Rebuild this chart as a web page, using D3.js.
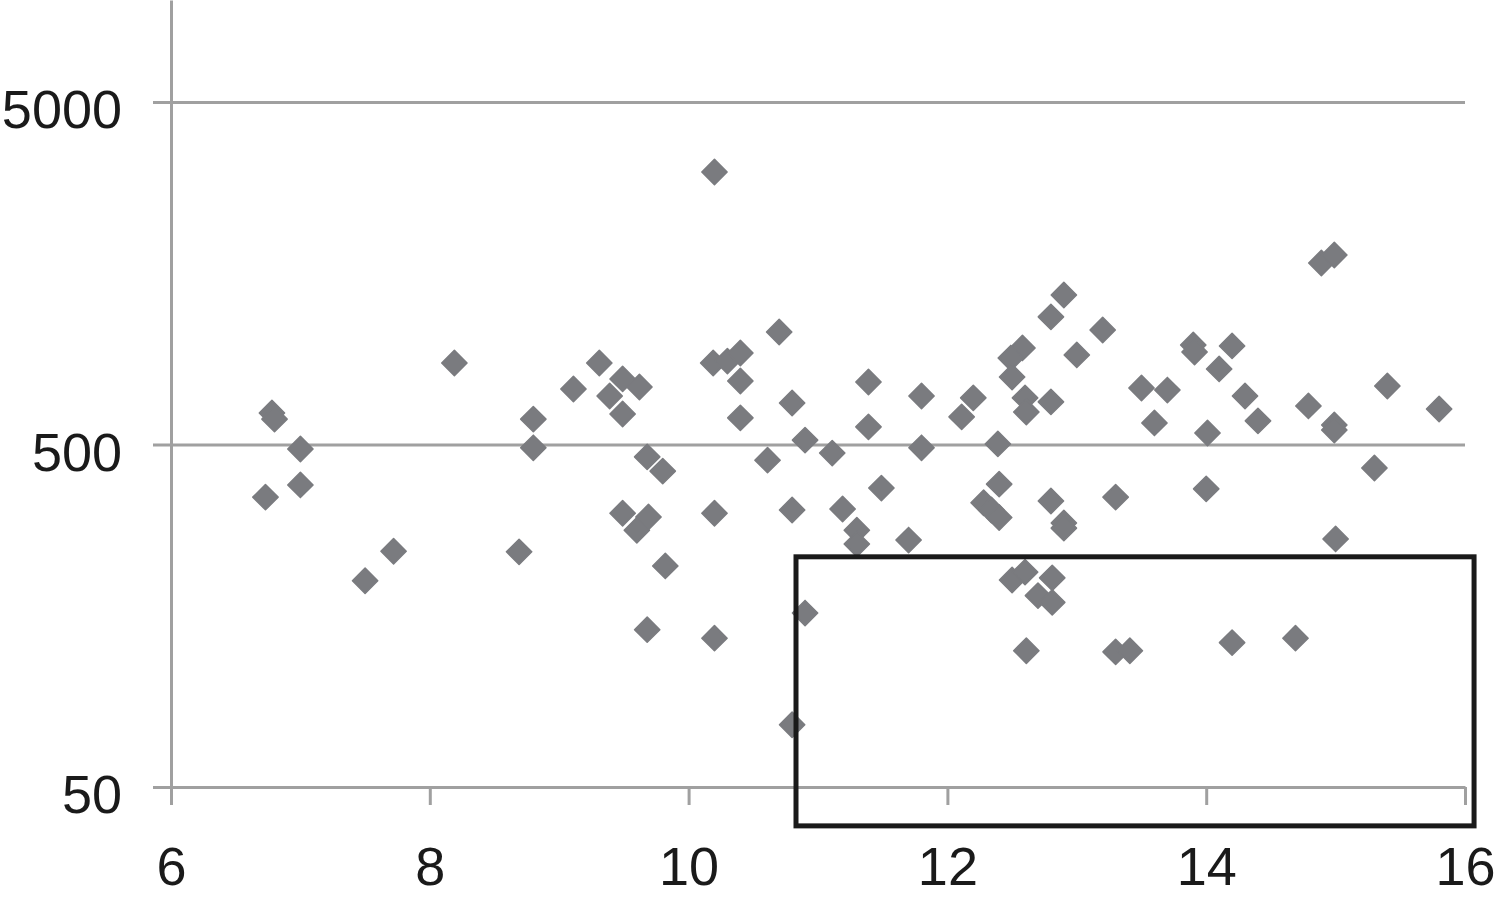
<!DOCTYPE html>
<html>
<head>
<meta charset="utf-8">
<script src="https://cdn.jsdelivr.net/npm/d3@7"></script>
<style>
  body { margin: 0; background: #fff; }
  svg { display: block; }
</style>
</head>
<body>
<script>
// scatter values
const xValues = [6.78, 6.80, 7.00, 6.73, 7.00, 7.50, 7.72, 8.19, 8.69, 8.80,
  8.80, 9.11, 9.31, 9.49, 9.62, 9.39, 9.49, 9.49, 9.69, 9.60,
  9.68, 9.80, 9.82, 9.68, 10.20, 10.19, 10.30, 10.40, 10.40, 10.70,
  10.40, 10.20, 10.20, 10.61, 10.80, 10.90, 10.80, 11.11, 11.19, 11.30,
  11.30, 10.90, 10.80, 11.39, 11.39, 11.49, 11.70, 11.80, 11.80, 12.11,
  12.20, 12.39, 12.40, 12.28, 12.34, 12.40, 12.58, 12.49, 12.50, 12.60,
  12.61, 12.80, 12.90, 12.80, 13.20, 13.00, 12.80, 12.90, 12.90, 13.30,
  12.50, 12.60, 12.81, 12.70, 12.81, 12.61, 13.30, 13.41, 13.50, 13.70,
  13.60, 13.90, 13.91, 14.20, 14.10, 14.30, 14.40, 14.01, 14.00, 14.20,
  14.69, 14.79, 14.89, 14.99, 14.99, 14.99, 15.30, 15.40, 15.80, 15.00];
const yValues = [618, 593, 485, 351, 381, 200, 244, 865, 243, 593,
  489, 726, 865, 777, 736, 693, 614, 315, 307, 281,
  460, 418, 221, 144, 3123, 865, 876, 925, 766, 1065,
  598, 315, 136, 450, 661, 515, 322, 472, 324, 281,
  256, 161, 76, 761, 563, 373, 263, 693, 489, 602,
  684, 502, 383, 338, 322, 306, 957, 894, 787, 684,
  622, 666, 1366, 1179, 1080, 913, 342, 295, 285, 351,
  201, 212, 204, 181, 173, 125, 124, 125, 731, 721,
  578, 976, 931, 970, 831, 693, 586, 540, 371, 132,
  136, 648, 1694, 1788, 570, 551, 427, 741, 635, 265];

const xTicks = [6, 8, 10, 12, 14, 16];
const yTicks = [50, 500, 5000];

// highlighted region (x range, y range)
const boxX = [10.83, 16.07];
const boxY = [38.5, 235];

const width = 1496, height = 898;
const left = 171, right = 1465, bottom = 787;

const svg = d3.select("body").append("svg")
    .attr("width", width)
    .attr("height", height);

const x = d3.scaleLinear()
    .domain([6, 16])
    .range([left, right]);

const y = d3.scaleLog()
    .domain([50, 5000])
    .range([bottom, 102]);
// stretch the axis up to the top of the picture
y.domain([50, y.invert(0)]).range([bottom, 0]);

const gridColor = "#a0a0a0";
const font = "'Liberation Sans', Arial, Helvetica, sans-serif";

// y axis + horizontal gridlines
const yAxis = svg.append("g")
    .attr("transform", `translate(${left},0)`)
    .call(d3.axisLeft(y).tickValues(yTicks).tickFormat(d3.format("d"))
        .tickSizeOuter(0).tickPadding(43));
yAxis.selectAll(".tick line")
    .attr("x1", -18)
    .attr("x2", right - left);
yAxis.selectAll("line, path")
    .attr("stroke", gridColor)
    .attr("stroke-width", 3);
yAxis.selectAll("text")
    .attr("dy", "0.48em")
    .attr("fill", "#1a1a1a")
    .style("font-family", font)
    .style("font-size", "54px");

// x axis
const xAxis = svg.append("g")
    .attr("transform", `translate(0,${bottom})`)
    .call(d3.axisBottom(x).tickValues(xTicks).tickFormat(d3.format("d"))
        .tickSizeInner(18).tickSizeOuter(0).tickPadding(42));
xAxis.selectAll("line, path")
    .attr("stroke", gridColor)
    .attr("stroke-width", 3);
xAxis.selectAll("text")
    .attr("fill", "#1a1a1a")
    .style("font-family", font)
    .style("font-size", "54px");

// diamonds
const diamond = d3.symbol().type(d3.symbolSquare).size(320);
svg.append("g")
    .selectAll("path")
    .data(xValues.map((v, i) => ({x: v, y: yValues[i]})))
    .enter().append("path")
    .attr("d", diamond)
    .attr("transform", d => `translate(${x(d.x)},${y(d.y)}) rotate(45)`)
    .attr("fill", "#7a7b7f")
    .attr("stroke", "#7a7b7f")
    .attr("stroke-width", 1.5)
    .attr("stroke-linejoin", "round");

// black box
svg.append("rect")
    .attr("x", x(boxX[0]))
    .attr("y", y(boxY[1]))
    .attr("width", x(boxX[1]) - x(boxX[0]))
    .attr("height", y(boxY[0]) - y(boxY[1]))
    .attr("fill", "none")
    .attr("stroke", "#1a1a1a")
    .attr("stroke-width", 5);
</script>
</body>
</html>
